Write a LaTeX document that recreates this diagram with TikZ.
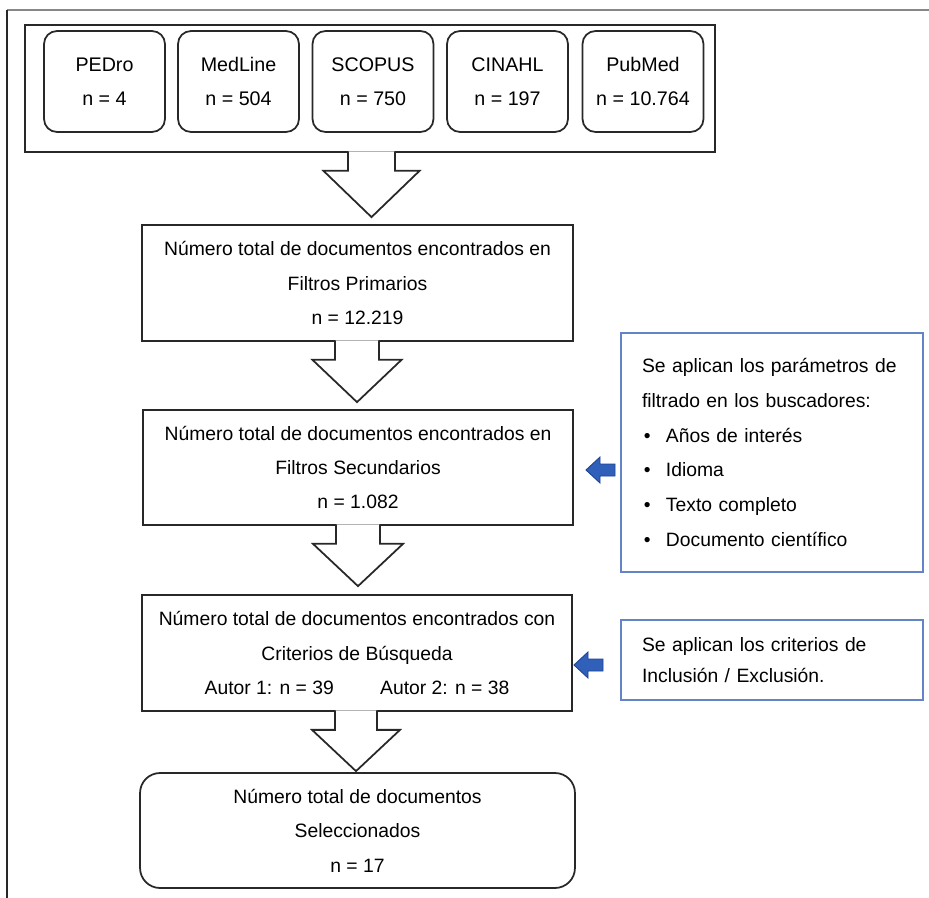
\documentclass[tikz,border=0pt]{standalone}
\usepackage{fontspec}
\setmainfont{Liberation Sans}
\usetikzlibrary{calc}

\definecolor{frameGray}{RGB}{135,135,135}
\definecolor{lineDark}{RGB}{40,40,40}
\definecolor{sideBlue}{RGB}{100,132,200}
\definecolor{arrowBlue}{RGB}{48,96,186}
\definecolor{arrowEdge}{RGB}{30,66,145}

\newcommand{\blt}{\makebox[13.6pt][l]{\hspace{1pt}\textbullet}}

% big white arrow between two boxes: from, to, x, half shaft, half head, gap
\newcommand{\blockarrow}[6]{%
  \coordinate (ax) at (#3,0);
  \draw[blockarr] ($(ax |- #1.south)+(-#4,-1.5)$) -- ($(ax |- #1.south)+(-#4,18)$)
    -- ($(ax |- #1.south)+(-#5,18)$) -- ($(ax |- #2.north)+(0,-#6)$)
    -- ($(ax |- #1.south)+(#5,18)$) -- ($(ax |- #1.south)+(#4,18)$)
    -- ($(ax |- #1.south)+(#4,-1.5)$);
}

\tikzset{
  dbbox/.style={draw=lineDark, line width=1pt, rounded corners=0.26cm,
    minimum width=2.42cm, minimum height=2.02cm, inner sep=0pt, align=center,
    font=\fontsize{11.2}{19.3}\selectfont},
  groupbox/.style={draw=lineDark, line width=1pt, minimum width=13.8cm,
    minimum height=2.54cm},
  stagebox/.style={draw=lineDark, line width=1pt, minimum height=2.32cm,
    inner sep=0pt, align=center, font=\fontsize{11}{19.6}\selectfont},
  sidebox/.style={draw=sideBlue, line width=0.8pt, inner xsep=0.42cm,
    text width=5.2cm, align=left},
  blockarr/.style={draw=lineDark, fill=white, line width=1pt, line join=miter},
  bluearr/.style={draw=arrowEdge, fill=arrowBlue, line width=0.5pt}
}

\begin{document}
\begin{tikzpicture}[x=0.02cm, y=-0.02cm]
    \useasboundingbox (0,0) rectangle (929,898);

    \draw[frameGray, line width=0.9pt] (929,10) -- (7,10);
    \draw[lineDark, line width=0.8pt] (7,10) -- (7,898);

    \node[groupbox] (fuentes) at (370,88.5) {};
    \node[dbbox] (pedro) at (104.5,81.5) {PEDro\\n = 4};
    \node[dbbox] (medline) at (238.5,81.5) {MedLine\\n = 504};
    \node[dbbox] (scopus) at (373,81.5) {SCOPUS\\n = 750};
    \node[dbbox] (cinahl) at (507.5,81.5) {CINAHL\\n = 197};
    \node[dbbox] (pubmed) at (643,81.5) {PubMed\\n = 10.764};

    \node[stagebox, minimum width=8.62cm] (prim) at (357.5,283)
        {Número total de documentos encontrados en\\Filtros Primarios\\n = 12.219};
    \node[stagebox, minimum width=8.6cm, minimum height=2.3cm] (sec) at (358,467.5)
        {Número total de documentos encontrados en\\Filtros Secundarios\\n = 1.082};
    \node[stagebox, minimum width=8.6cm] (crit) at (357,653)
        {Número total de documentos encontrados con\\Criterios de Búsqueda\\
         Autor 1: n = 39\hspace{2.4em}Autor 2: n = 38};
    \node[stagebox, minimum width=8.7cm, minimum height=2.3cm, rounded corners=0.4cm] (sel)
        at (357.5,830.5) {Número total de documentos\\Seleccionados\\n = 17};

    \node[sidebox, minimum height=4.78cm, font=\fontsize{11}{19.8}\selectfont] (side1)
        at (772,452.5) {Se aplican los parámetros de\\filtrado en los buscadores:\\
        \blt Años de interés\\\blt Idioma\\\blt Texto completo\\\blt Documento científico};
    \node[sidebox, minimum height=1.6cm, font=\fontsize{11}{17.6}\selectfont] (side2)
        at (772,660) {Se aplican los criterios de\\Inclusión / Exclusión.};

    \blockarrow{fuentes}{prim}{371.5}{23.5}{48}{7}
    \blockarrow{prim}{sec}{357}{22}{44.5}{7}
    \blockarrow{sec}{crit}{358}{22}{45}{8}
    \blockarrow{crit}{sel}{356}{21}{44}{1}

    \coordinate (tail1) at (615,470);
    \coordinate (tail2) at (603,665);
    \foreach \t in {tail1,tail2}
        \draw[bluearr] (\t) ++(0,-6) -- ++(-15,0) -- ++(0,-7) -- ++(-14,13)
            -- ++(14,13) -- ++(0,-7) -- ++(15,0) -- cycle;
\end{tikzpicture}
\end{document}
